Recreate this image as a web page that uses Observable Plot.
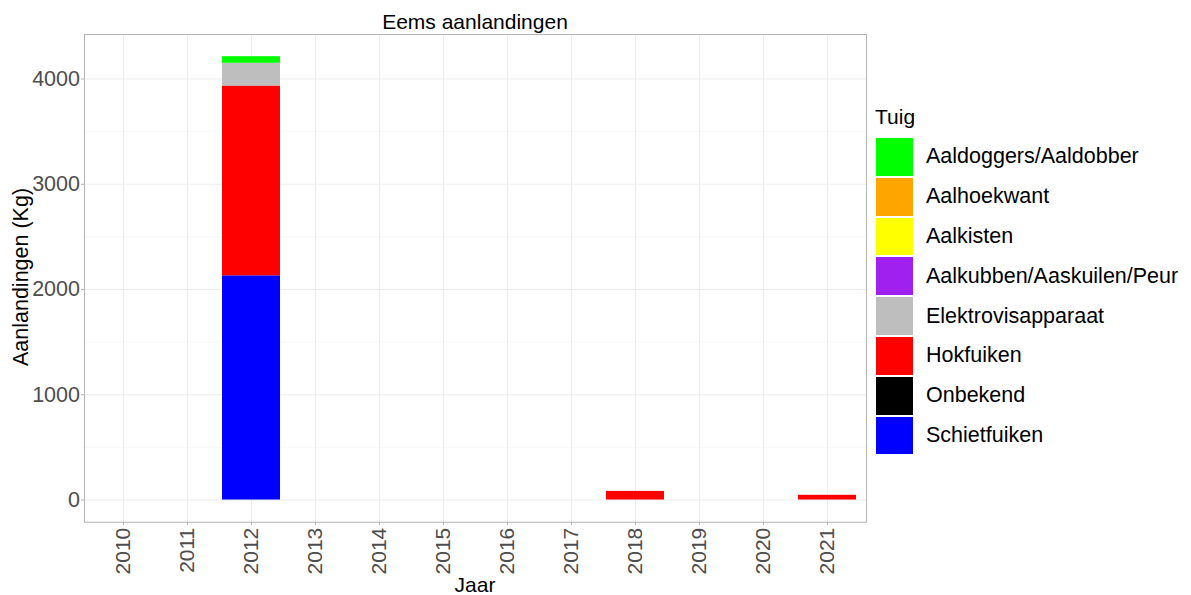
<!DOCTYPE html>
<html><head><meta charset="utf-8">
<script src="https://cdn.jsdelivr.net/npm/d3@7"></script>
<script src="https://cdn.jsdelivr.net/npm/@observablehq/plot@0.6"></script>
<style>
body{margin:0;background:#fff;font-family:"Liberation Sans",Arial,sans-serif;}
#wrap{position:relative;width:1191px;height:595px;overflow:hidden;background:#fff;}
#chart{position:absolute;left:0;top:0;}
.t{position:absolute;white-space:nowrap;color:#000;line-height:1;}
#title{left:84px;width:782px;top:11px;text-align:center;font-size:21px;}
#ylab{left:22px;top:277px;font-size:21.5px;transform:translate(-50%,-50%) rotate(-90deg);}
#xlab{left:84px;width:782px;top:574px;text-align:center;font-size:21px;}
#legend{position:absolute;left:875px;top:106px;}
#legend .lt{font-size:21px;height:31px;line-height:22px;}
#legend .row{display:flex;align-items:center;height:39.8px;}
#legend .sw{width:39px;height:39.8px;box-sizing:border-box;border:0.5px solid #fff;}
#legend .lb{font-size:21.5px;margin-left:12px;color:#000;}
</style></head><body>
<div id="wrap">
<div id="chart"></div>
<div class="t" id="title">Eems aanlandingen</div>
<div class="t" id="ylab">Aanlandingen (Kg)</div>
<div class="t" id="xlab">Jaar</div>
<div id="legend"></div>
</div>
<script>
const years = ["2010","2011","2012","2013","2014","2015","2016","2017","2018","2019","2020","2021"];
const tuig = ["Aaldoggers/Aaldobber","Aalhoekwant","Aalkisten","Aalkubben/Aaskuilen/Peur","Elektrovisapparaat","Hokfuiken","Onbekend","Schietfuiken"];
const kleuren = ["#00FF00","#FFA500","#FFFF00","#A020F0","#BEBEBE","#FF0000","#000000","#0000FF"];
const jaarData = ["2012","2012","2012","2012","2018","2021"];
const tuigData = ["Schietfuiken","Hokfuiken","Elektrovisapparaat","Aaldoggers/Aaldobber","Hokfuiken","Hokfuiken"];
const kgData = [2130,1803,216,63,82,45];
const yTicks = [0,1000,2000,3000,4000];
const yMinor = [500,1500,2500,3500];

const rows = jaarData.map((j,i)=>({jaar:j, tuig:tuigData[i], kg:kgData[i]}));
const yMax = d3.max(d3.rollup(rows, v=>d3.sum(v,d=>d.kg), d=>d.jaar).values());

const chart = Plot.plot({
  width:1191, height:595,
  marginLeft:84, marginRight:325, marginTop:34, marginBottom:73.3,
  style:{fontFamily:'"Liberation Sans",Arial,sans-serif', background:"#fff"},
  x:{type:"band", domain:years, paddingInner:0.1, paddingOuter:0.15, label:null},
  y:{domain:[-0.05*yMax, 1.05*yMax], label:null},
  color:{domain:tuig, range:kleuren},
  marks:[
    Plot.gridY(yMinor, {stroke:"#f4f4f4", strokeOpacity:1, strokeWidth:0.6}),
    Plot.gridY(yTicks, {stroke:"#ececec", strokeOpacity:1, strokeWidth:1}),
    Plot.gridX(years, {stroke:"#ececec", strokeOpacity:1, strokeWidth:1}),
    Plot.barY(rows, Plot.stackY({order: tuig.slice().reverse()}, {x:"jaar", y:"kg", fill:"tuig"})),
    Plot.frame({stroke:"#b3b3b3", strokeWidth:1}),
    Plot.axisY(yTicks, {tickSize:3, tickPadding:1.5, fontSize:21.5, fill:"#4d4d4d", stroke:"#b3b3b3", label:null, tickFormat:d=>String(d)}),
    Plot.axisX(years, {tickRotate:-90, tickSize:3.5, tickPadding:2, fontSize:21, fill:"#4d4d4d", stroke:"#b3b3b3", label:null})
  ]
});
document.getElementById("chart").appendChild(chart);

const lg = document.getElementById("legend");
const lt = document.createElement("div"); lt.className="lt"; lt.textContent="Tuig"; lg.appendChild(lt);
tuig.forEach((t,i)=>{
  const r = document.createElement("div"); r.className="row";
  const s = document.createElement("div"); s.className="sw"; s.style.background=kleuren[i];
  const l = document.createElement("div"); l.className="lb"; l.textContent=t;
  r.appendChild(s); r.appendChild(l); lg.appendChild(r);
});
</script>
</body></html>
